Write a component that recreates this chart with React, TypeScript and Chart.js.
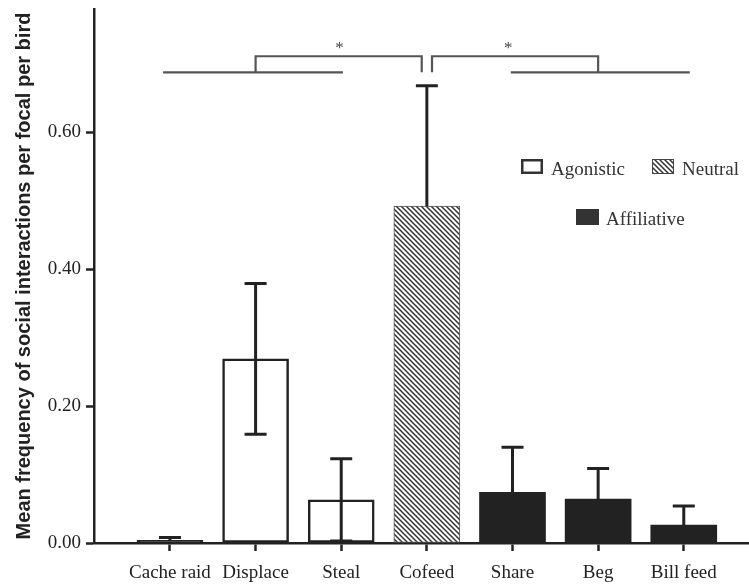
import React, { useEffect, useRef } from "react";
import { Chart, registerables } from "chart.js";

Chart.register(...registerables);

// ---- data ----
const categories = ["Cache raid", "Displace", "Steal", "Cofeed", "Share", "Beg", "Bill feed"];
const groups = ["Agonistic", "Agonistic", "Agonistic", "Neutral", "Affiliative", "Affiliative", "Affiliative"];
const means = [0.004, 0.269, 0.063, 0.492, 0.074, 0.064, 0.026];
const errors = [0.004, 0.11, 0.06, 0.176, 0.066, 0.045, 0.028];
const showLowerError = [false, true, true, false, false, false, false];
const yTickValues = [0, 0.2, 0.4, 0.6];
const yMax = 0.78;
const legendLabels = ["Agonistic", "Neutral", "Affiliative"];
// significance annotation (x in category units, y in data units)
const baseLines = [[-0.08, 2.02], [3.98, 6.07]];
const brackets = [[1.0, 2.94], [3.06, 5.0]];
const starX = [1.98, 3.95];
const baseLevel = 0.6875;
const bracketLevel = 0.711;
const starLevel = 0.726;

const INK = "#222222";
const SERIF = "'Liberation Serif', 'Times New Roman', serif";
const SANS = "'Liberation Sans', Arial, sans-serif";

function makeHatch(): CanvasPattern | string {
  const s = 5;
  const c = document.createElement("canvas");
  c.width = s;
  c.height = s;
  const g = c.getContext("2d");
  if (!g) return "#888";
  g.fillStyle = "#ffffff";
  g.fillRect(0, 0, s, s);
  g.strokeStyle = "#333333";
  g.lineWidth = 1.5;
  g.beginPath();
  g.moveTo(-1, -1);
  g.lineTo(s + 1, s + 1);
  g.moveTo(-1, s - 1);
  g.lineTo(1, s + 1);
  g.moveTo(s - 1, -1);
  g.lineTo(s + 1, 1);
  g.stroke();
  const p = g.createPattern(c, "repeat");
  return p || "#888";
}

export default function App() {
  const ref = useRef<HTMLCanvasElement | null>(null);

  useEffect(() => {
    document.body.style.margin = "0";
    const canvas = ref.current;
    if (!canvas) return;
    const hatch = makeHatch();
    const fillFor = (g: string) => (g === "Agonistic" ? "#ffffff" : g === "Neutral" ? hatch : INK);
    const borderFor = (g: string) => (g === "Neutral" ? "#555555" : INK);
    const borderWFor = (g: string) => (g === "Neutral" ? 1 : g === "Agonistic" ? 2.5 : 0);

    const overlay = {
      id: "overlay",
      afterDatasetsDraw(chart: any) {
        const { ctx, scales } = chart;
        const x = scales.x;
        const y = scales.y;
        ctx.save();
        // error bars
        ctx.strokeStyle = INK;
        ctx.lineWidth = 3;
        ctx.lineCap = "butt";
        means.forEach((m, i) => {
          const cx = x.getPixelForValue(i);
          const top = y.getPixelForValue(m + errors[i]);
          const bot = showLowerError[i] ? y.getPixelForValue(Math.max(0, m - errors[i])) : y.getPixelForValue(m);
          ctx.beginPath();
          ctx.moveTo(cx, top);
          ctx.lineTo(cx, bot);
          ctx.moveTo(cx - 11, top);
          ctx.lineTo(cx + 11, top);
          if (showLowerError[i]) {
            ctx.moveTo(cx - 11, bot);
            ctx.lineTo(cx + 11, bot);
          }
          ctx.stroke();
        });
        // significance lines
        ctx.strokeStyle = "#555555";
        ctx.lineWidth = 2.2;
        const yb = y.getPixelForValue(baseLevel);
        const yt = y.getPixelForValue(bracketLevel);
        baseLines.forEach(([a, b]) => {
          ctx.beginPath();
          ctx.moveTo(x.getPixelForValue(a), yb);
          ctx.lineTo(x.getPixelForValue(b), yb);
          ctx.stroke();
        });
        brackets.forEach(([a, b]) => {
          ctx.beginPath();
          ctx.moveTo(x.getPixelForValue(a), yb);
          ctx.lineTo(x.getPixelForValue(a), yt);
          ctx.lineTo(x.getPixelForValue(b), yt);
          ctx.lineTo(x.getPixelForValue(b), yb);
          ctx.stroke();
        });
        ctx.fillStyle = "#444444";
        ctx.font = `17px ${SERIF}`;
        ctx.textAlign = "center";
        ctx.textBaseline = "middle";
        starX.forEach((sx) => {
          ctx.fillText("*", x.getPixelForValue(sx), y.getPixelForValue(starLevel) + 3);
        });
        // legend
        const area = chart.chartArea;
        const items = [
          { label: legendLabels[0], bx: area.right - 227, by: area.top + 150 },
          { label: legendLabels[1], bx: area.right - 96, by: area.top + 150 },
          { label: legendLabels[2], bx: area.right - 172, by: area.top + 200 },
        ];
        ctx.font = `19px ${SERIF}`;
        ctx.textAlign = "left";
        ctx.textBaseline = "alphabetic";
        items.forEach((it) => {
          const w = 22;
          const h = 15;
          const g = it.label;
          if (g === "Agonistic") {
            ctx.fillStyle = "#ffffff";
            ctx.fillRect(it.bx, it.by, w, h);
            ctx.strokeStyle = "#333333";
            ctx.lineWidth = 2.5;
            ctx.strokeRect(it.bx + 1.25, it.by + 1.25, w - 2.5, h - 2.5);
          } else if (g === "Neutral") {
            ctx.fillStyle = hatch as any;
            ctx.fillRect(it.bx, it.by, w, h);
            ctx.strokeStyle = "#444444";
            ctx.lineWidth = 1;
            ctx.strokeRect(it.bx + 0.5, it.by + 0.5, w - 1, h - 1);
          } else {
            ctx.fillStyle = "#333333";
            ctx.fillRect(it.bx, it.by, w + 1, h + 1);
          }
          ctx.fillStyle = "#333333";
          ctx.fillText(it.label, it.bx + w + 8, it.by + h + 1);
        });
        ctx.restore();
      },
    };

    const chart = new Chart(canvas, {
      type: "bar",
      data: {
        datasets: [
          {
            data: means.map((v, i) => ({ x: i, y: v })),
            // an outlined bar thinner than its border shows as solid ink
            backgroundColor: groups.map((g, i) => (g === "Agonistic" && means[i] < 0.01 ? INK : fillFor(g))) as any,
            borderColor: groups.map(borderFor),
            borderWidth: groups.map(borderWFor),
            borderSkipped: false,
            barThickness: 66,
          } as any,
        ],
      },
      options: {
        animation: false,
        responsive: false,
        maintainAspectRatio: false,
        events: [],
        layout: { padding: { top: 9, right: 1, left: 0, bottom: 0 } },
        plugins: { legend: { display: false }, tooltip: { enabled: false } },
        scales: {
          x: {
            type: "linear",
            offset: false,
            min: -0.887,
            max: 6.75,
            afterBuildTicks: (s: any) => {
              s.ticks = categories.map((_, i) => ({ value: i }));
            },
            afterFit: (s: any) => {
              s.height = 41;
              s.paddingLeft = 0;
              s.paddingRight = 0;
            },
            grid: { display: true, offset: false, drawOnChartArea: false, drawTicks: true, tickLength: 8, tickWidth: 2.5, tickColor: INK },
            border: { display: true, width: 2.5, color: INK },
            ticks: {
              autoSkip: false,
              maxRotation: 0,
              minRotation: 0,
              padding: 11,
              color: INK,
              font: { family: SERIF, size: 19 },
              callback: (v: any) => categories[Math.round(Number(v))] ?? "",
            },
          },
          y: {
            type: "linear",
            min: 0,
            max: yMax,
            afterBuildTicks: (s: any) => {
              s.ticks = yTickValues.map((v) => ({ value: v }));
            },
            afterFit: (s: any) => {
              s.width = 94;
              s.paddingTop = 0;
              s.paddingBottom = 0;
            },
            grid: { display: true, drawOnChartArea: false, drawTicks: true, tickLength: 8, tickWidth: 2.5, tickColor: INK },
            border: { display: true, width: 2.5, color: INK },
            ticks: {
              padding: 5,
              color: INK,
              font: { family: SERIF, size: 19 },
              callback: (v: any) => Number(v).toFixed(2),
            },
            title: {
              display: true,
              text: "Mean frequency of social interactions per focal per bird",
              color: INK,
              font: { family: SANS, size: 20, weight: "bold" },
              padding: { top: 12, bottom: 0 },
            },
          },
        },
      },
      plugins: [overlay],
    });
    return () => chart.destroy();
  }, []);

  return (
    <div style={{ width: 749, height: 584, background: "#ffffff" }}>
      <canvas ref={ref} width={749} height={584} style={{ display: "block" }} />
    </div>
  );
}
